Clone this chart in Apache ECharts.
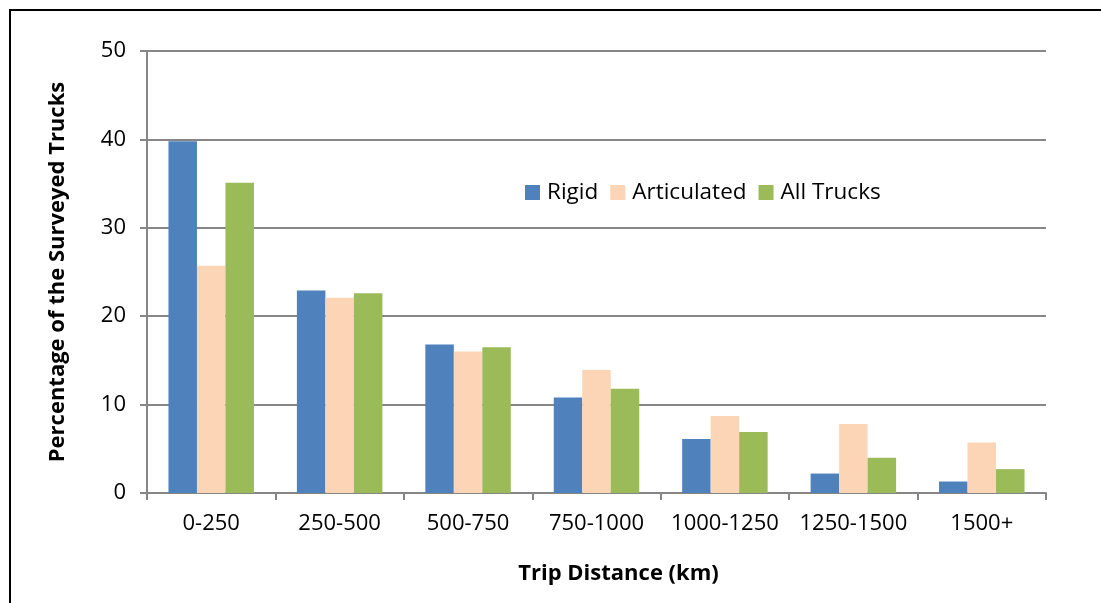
<!DOCTYPE html>
<html><head><meta charset="utf-8">
<script src="https://cdn.jsdelivr.net/npm/echarts@6/dist/echarts.min.js"></script>
<style>html,body{margin:0;padding:0;background:#fff;}#c{width:1101px;height:603px;}</style>
</head><body><div id="c"></div>
<script>
const categories = ['0-250','250-500','500-750','750-1000','1000-1250','1250-1500','1500+'];
const rigid = [39.8, 22.9, 16.8, 10.8, 6.1, 2.2, 1.3];
const articulated = [25.7, 22.1, 16.0, 13.9, 8.7, 7.8, 5.7];
const allTrucks = [35.1, 22.6, 16.5, 11.8, 6.9, 4.0, 2.7];
const yTicks = [0, 10, 20, 30, 40, 50];

const font = "'Open Sans', 'Liberation Sans', sans-serif";
const chart = echarts.init(document.getElementById('c'), null, {renderer: 'canvas'});
const mk = (name, data, color) => ({
  name, type: 'bar', data, barWidth: 28.5, barGap: '0%',
  itemStyle: {color}, emphasis: {disabled: true}
});
chart.setOption({
  animation: false,
  backgroundColor: '#fff',
  grid: {left: 147, right: 55, top: 51, bottom: 110, containLabel: false},
  legend: {
    data: ['Rigid','Articulated','All Trucks'],
    left: 520, top: 176, itemWidth: 15, itemHeight: 15, itemGap: 12,
    icon: 'rect',
    textStyle: {fontFamily: font, fontSize: 22.5, color: '#000', padding: [0,0,0,2]}
  },
  xAxis: {
    type: 'category', data: categories,
    name: 'Trip Distance (km)', nameLocation: 'middle', nameGap: 70,
    nameTextStyle: {fontFamily: font, fontSize: 22, fontWeight: 'bold', color: '#000', padding: [0,0,0,44]},
    axisLine: {lineStyle: {color: '#868686', width: 2}},
    axisTick: {show: true, length: 7, lineStyle: {color: '#868686', width: 2}},
    axisLabel: {fontFamily: font, fontSize: 22, color: '#000', margin: 20, interval: 0}
  },
  yAxis: {
    type: 'value', min: 0, max: 50, interval: 10,
    name: 'Percentage of the Surveyed Trucks', nameLocation: 'middle', nameGap: 78,
    nameTextStyle: {fontFamily: font, fontSize: 22, fontWeight: 'bold', color: '#000'},
    axisLine: {show: true, lineStyle: {color: '#868686', width: 2}},
    axisTick: {show: true, length: 7, lineStyle: {color: '#868686', width: 2}},
    splitLine: {lineStyle: {color: '#868686', width: 2}},
    axisLabel: {fontFamily: font, fontSize: 22, color: '#000', margin: 21,
      formatter: v => yTicks.includes(v) ? String(v) : ''}
  },
  series: [
    mk('Rigid', rigid, '#4F81BD'),
    mk('Articulated', articulated, '#FBD5B5'),
    mk('All Trucks', allTrucks, '#9BBB59')
  ],
  graphic: [
    {type: 'line', shape: {x1: 10, y1: 10, x2: 10, y2: 603}, style: {stroke: '#000', lineWidth: 2}},
    {type: 'line', shape: {x1: 9, y1: 10, x2: 1101, y2: 10}, style: {stroke: '#000', lineWidth: 2}}
  ]
});
</script></body></html>
